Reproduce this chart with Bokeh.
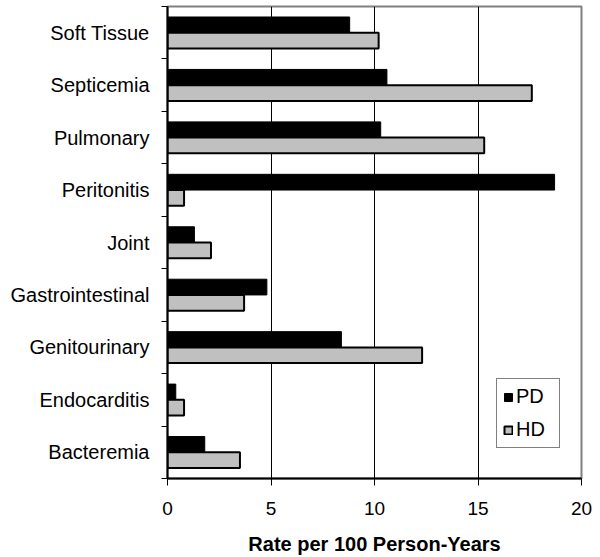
from bokeh.plotting import figure
from bokeh.models import FixedTicker, Range1d, Legend, LegendItem, ColumnDataSource
from bokeh.transform import dodge
from bokeh.embed import file_html
from bokeh.resources import INLINE

categories = ["Bacteremia", "Endocarditis", "Genitourinary", "Gastrointestinal",
              "Joint", "Peritonitis", "Pulmonary", "Septicemia", "Soft Tissue"]
pd_rate = [1.8, 0.4, 8.4, 4.8, 1.3, 18.7, 10.3, 10.6, 8.8]
hd_rate = [3.5, 0.8, 12.3, 3.7, 2.1, 0.8, 15.3, 17.6, 10.2]
x_ticks = [0, 5, 10, 15, 20]
series_names = ["PD", "HD"]

ypos = list(range(len(categories)))
src = ColumnDataSource(dict(y=ypos, pd=pd_rate, hd=hd_rate))

FONT = "Liberation Sans"

p = figure(width=592, height=557, x_range=Range1d(0, 20),
           y_range=Range1d(-0.5, len(categories) - 0.5),
           output_backend="svg", toolbar_location=None,
           min_border_left=167, min_border_right=11, min_border_top=6,
           min_border_bottom=78)

p.outline_line_color = "#808080"
p.outline_line_width = 2

# grid
p.ygrid.visible = False
p.xgrid.ticker = FixedTicker(ticks=[t for t in x_ticks if 0 < t < 20])
p.xgrid.grid_line_color = "black"
p.xgrid.grid_line_width = 1

# bars
r_pd = p.hbar(y=dodge("y", 0.15), left=0, right="pd", height=0.3, source=src,
              fill_color="black", line_color="black", line_width=1)
r_hd = p.hbar(y=dodge("y", -0.15), left=0, right="hd", height=0.3, source=src,
              fill_color="#c0c0c0", line_color="black", line_width=2)

# y axis
p.yaxis.ticker = FixedTicker(ticks=ypos, minor_ticks=[y - 0.5 for y in ypos] + [ypos[-1] + 0.5])
p.yaxis.major_label_overrides = {y: c for y, c in zip(ypos, categories)}
p.yaxis.major_tick_in = 0
p.yaxis.major_tick_out = 0
p.yaxis.minor_tick_in = 0
p.yaxis.minor_tick_out = 6
p.yaxis.minor_tick_line_color = "black"
p.yaxis.axis_line_color = "black"
p.yaxis.axis_line_width = 2
p.yaxis.major_label_text_font = FONT
p.yaxis.major_label_text_font_size = "20px"
p.yaxis.major_label_text_color = "black"
p.yaxis.major_label_standoff = 12

# x axis
p.xaxis.ticker = FixedTicker(ticks=x_ticks)
p.xaxis.major_tick_in = 0
p.xaxis.major_tick_out = 7
p.xaxis.minor_tick_out = 0
p.xaxis.minor_tick_in = 0
p.xaxis.axis_line_color = "black"
p.xaxis.axis_line_width = 2
p.xaxis.major_tick_line_color = "black"
p.xaxis.major_label_text_font = FONT
p.xaxis.major_label_text_font_size = "19px"
p.xaxis.major_label_text_color = "black"
p.xaxis.major_label_standoff = 16
p.xaxis.axis_label = "Rate per 100 Person-Years"
p.xaxis.axis_label_text_font = FONT
p.xaxis.axis_label_text_font_size = "20px"
p.xaxis.axis_label_text_font_style = "bold"
p.xaxis.axis_label_text_color = "black"
p.xaxis.axis_label_standoff = 15

legend = Legend(items=[LegendItem(label=series_names[0], renderers=[r_pd]),
                       LegendItem(label=series_names[1], renderers=[r_hd])],
                location=(329, 30))
legend.border_line_color = "black"
legend.border_line_width = 1
legend.label_text_font = FONT
legend.label_text_font_size = "20px"
legend.label_text_color = "black"
legend.glyph_width = 10
legend.glyph_height = 10
legend.label_standoff = 3
legend.spacing = 10
legend.padding = 6
legend.margin = 0
legend.label_height = 20
legend.label_width = 37
p.add_layout(legend)

open("out.html", "w").write(file_html(p, INLINE))
